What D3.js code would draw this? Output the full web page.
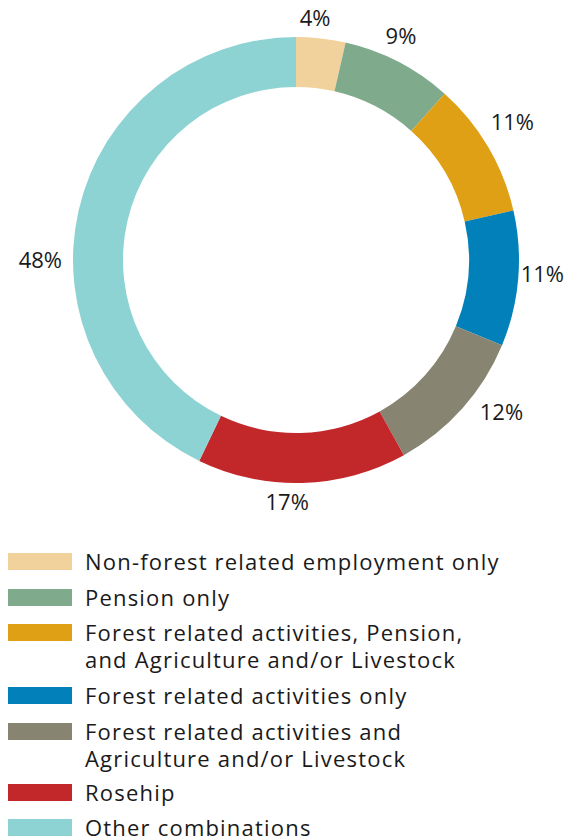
<!DOCTYPE html>
<html>
<head>
<meta charset="utf-8">
<script src="https://cdn.jsdelivr.net/npm/d3@7"></script>
<style>
  html, body { margin: 0; padding: 0; background: #fff; }
  svg { display: block; }
  text { font-family: "Open Sans", "Noto Sans", sans-serif; fill: #1a1a1a; }
</style>
</head>
<body>
<svg id="chart" width="567" height="839"></svg>
<script>
// Income source groups (legend labels; "\n" marks a line break)
const categories = [
  "Non-forest related employment only",
  "Pension only",
  "Forest related activities, Pension,\nand Agriculture and/or Livestock",
  "Forest related activities only",
  "Forest related activities and\nAgriculture and/or Livestock",
  "Rosehip",
  "Other combinations"
];
// Share of households, percent
const values = [4, 9, 11, 11, 12, 17, 48];
const colors = ["#f2d29c", "#7fab8c", "#dfa016", "#0280b9", "#878571", "#c2282a", "#8ed3d3"];

const width = 567, height = 839;
const svg = d3.select("#chart");

const cx = 296, cy = 260;
const outerR = 223, innerR = 173;
const fontSize = 22, letterSpacing = 1.2;

// Small angular shifts (degrees) so each percent label sits clear of its neighbours
const labelShift = [-1.9, -2.2, -1.9, -1.6, -5.2, 3.7, -12.9];

const pie = d3.pie().sort(null).value(d => d.value);
const data = categories.map((c, i) => ({ name: c, value: values[i], color: colors[i] }));
const arcs = pie(data);

const arc = d3.arc().innerRadius(innerR).outerRadius(outerR);

const g = svg.append("g").attr("transform", `translate(${cx},${cy})`);

g.selectAll("path.slice")
  .data(arcs)
  .join("path")
  .attr("class", "slice")
  .attr("d", arc)
  .attr("fill", d => d.data.color);

const labels = g.selectAll("text.pct")
  .data(arcs)
  .join("text")
  .attr("class", "pct")
  .attr("text-anchor", "middle")
  .attr("dy", "0.36em")
  .attr("font-size", fontSize)
  .text(d => d.data.value + "%");

// Place each label just outside the ring, pushed out by half its box,
// and keep it inside the drawing area
labels.each(function(d, i) {
  const bb = this.getBBox();
  const a = (d.startAngle + d.endAngle) / 2 + labelShift[i] * Math.PI / 180;
  const s = Math.sin(a), c = Math.cos(a);
  const r = outerR + 11 + Math.abs(s) * bb.width / 2 + Math.abs(c) * 15 / 2;
  let x = s * r;
  const maxX = width - 3 - cx - bb.width / 2;
  if (x > maxX) x = maxX;
  d3.select(this).attr("transform", `translate(${x},${-c * r})`);
});

// Legend
const legend = svg.append("g").attr("class", "legend");
const rowTop = [553, 589, 624, 687, 723, 784, 819];
const lineH = 27.5;

data.forEach((d, i) => {
  const y = rowTop[i];
  legend.append("rect")
    .attr("x", 8).attr("y", y)
    .attr("width", 64).attr("height", 17)
    .attr("fill", d.color);
  const t = legend.append("text")
    .attr("x", 85).attr("y", y + 16.5)
    .attr("font-size", fontSize)
    .attr("letter-spacing", letterSpacing);
  d.name.split("\n").forEach((line, j) => {
    t.append("tspan").attr("x", 85).attr("dy", j === 0 ? 0 : lineH).text(line);
  });
});
</script>
</body>
</html>
